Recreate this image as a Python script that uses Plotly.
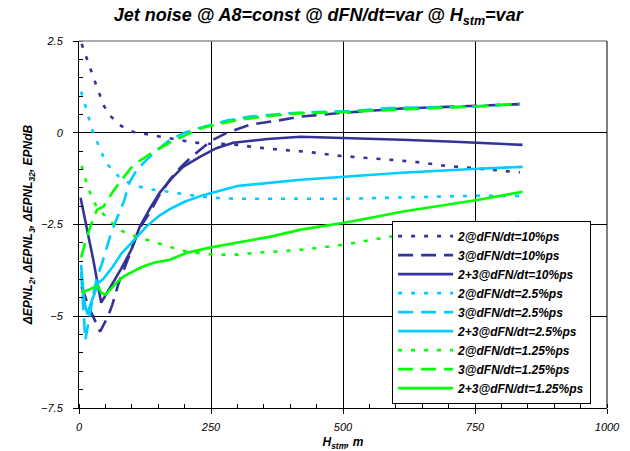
import plotly.graph_objects as go

# H_stm, m  /  delta EPNL, EPNdB  for each thrust-rate case
x_2_10 = [5, 15, 25, 35, 48, 60, 76, 90, 101, 125, 147, 170, 191, 215, 240, 270, 302, 330, 380, 433, 487, 540, 592, 641, 693, 744, 798, 835]
y_2_10 = [2.42, 2.0, 1.6, 1.2, 0.71, 0.45, 0.22, 0.1, 0.03, -0.03, -0.08, -0.13, -0.19, -0.26, -0.3, -0.3, -0.33, -0.39, -0.46, -0.52, -0.62, -0.69, -0.74, -0.8, -0.9, -0.96, -1.03, -1.08]

x_3_10 = [5, 20, 40, 55, 63, 75, 90, 115, 134, 150, 172, 190, 210, 230, 250, 280, 324, 376, 420, 496, 550, 611, 649, 697, 750, 800, 835]
y_3_10 = [-4.2, -4.8, -5.42, -5.0, -4.69, -4.1, -3.54, -2.59, -2.18, -1.75, -1.28, -0.98, -0.7, -0.45, -0.22, 0.0, 0.22, 0.33, 0.44, 0.54, 0.6, 0.66, 0.68, 0.7, 0.73, 0.76, 0.78]

x_23_10 = [3, 17, 27, 42, 60, 80, 99, 115, 135, 153, 175, 197, 229, 260, 292, 357, 420, 502, 611, 700, 754, 840]
y_23_10 = [-1.77, -2.72, -3.46, -4.63, -4.2, -3.7, -3.19, -2.56, -2.05, -1.63, -1.25, -0.93, -0.66, -0.42, -0.27, -0.17, -0.11, -0.14, -0.19, -0.24, -0.27, -0.33]

x_2_25 = [4, 13, 25, 38, 51, 76, 101, 139, 172, 204, 254, 300, 400, 500, 590, 668, 744, 835]
y_2_25 = [1.12, 0.68, 0.08, -0.38, -0.82, -1.2, -1.42, -1.55, -1.61, -1.69, -1.77, -1.8, -1.8, -1.8, -1.77, -1.74, -1.72, -1.72]

x_3_25 = [4, 12, 20, 27, 34, 44, 61, 76, 86, 95, 110, 128, 150, 172, 200, 235, 280, 324, 363, 406, 458, 510, 601, 649, 697, 744, 782, 835]
y_3_25 = [-3.8, -5.65, -5.0, -4.4, -3.95, -3.54, -2.72, -2.18, -1.83, -1.36, -1.0, -0.74, -0.45, -0.19, 0.0, 0.16, 0.33, 0.44, 0.49, 0.54, 0.57, 0.59, 0.68, 0.69, 0.72, 0.71, 0.74, 0.79]

x_23_25 = [4, 10, 16, 22, 30, 36, 45, 64, 80, 110, 128, 153, 172, 200, 235, 300, 363, 420, 502, 573, 611, 754, 840]
y_23_25 = [-3.6, -4.6, -4.95, -4.66, -4.36, -4.09, -4.0, -3.65, -3.3, -2.83, -2.55, -2.25, -2.08, -1.88, -1.7, -1.45, -1.36, -1.28, -1.2, -1.12, -1.09, -0.98, -0.93]

x_2_125 = [5, 15, 25, 35, 45, 57, 72, 85, 109, 147, 204, 254, 300, 338, 420, 502, 590, 641, 693, 744, 798, 835]
y_2_125 = [-0.9, -1.4, -1.8, -2.05, -2.2, -2.37, -2.59, -2.7, -2.83, -3.0, -3.24, -3.32, -3.32, -3.27, -3.19, -3.05, -2.83, -2.75, -2.7, -2.53, -2.45, -2.43]

x_3_125 = [4, 13, 23, 34, 47, 63, 81, 99, 109, 139, 172, 204, 235, 300, 363, 406, 510, 597, 700, 744, 782, 835]
y_3_125 = [-3.4, -2.92, -2.5, -2.1, -2.0, -1.63, -1.28, -0.95, -0.82, -0.54, -0.27, -0.05, 0.14, 0.35, 0.46, 0.52, 0.57, 0.63, 0.69, 0.71, 0.74, 0.79]

x_23_125 = [4, 10, 18, 27, 36, 42, 50, 71, 84, 116, 141, 172, 204, 248, 300, 363, 420, 502, 573, 611, 754, 840]
y_23_125 = [-4.36, -4.33, -4.28, -4.22, -4.19, -4.36, -4.41, -4.09, -3.92, -3.68, -3.54, -3.46, -3.27, -3.13, -3.0, -2.83, -2.64, -2.45, -2.26, -2.15, -1.83, -1.61]

NAVY = "#333399"
CYAN = "#00CCFF"
GREEN = "#00FF00"
DOT = "4px,9px"
DASH = "15px,8px"

series = [
    ("2@dFN/dt=10%ps", x_2_10, y_2_10, NAVY, DOT),
    ("3@dFN/dt=10%ps", x_3_10, y_3_10, NAVY, DASH),
    ("2+3@dFN/dt=10%ps", x_23_10, y_23_10, NAVY, "solid"),
    ("2@dFN/dt=2.5%ps", x_2_25, y_2_25, CYAN, DOT),
    ("3@dFN/dt=2.5%ps", x_3_25, y_3_25, CYAN, DASH),
    ("2+3@dFN/dt=2.5%ps", x_23_25, y_23_25, CYAN, "solid"),
    ("2@dFN/dt=1.25%ps", x_2_125, y_2_125, GREEN, DOT),
    ("3@dFN/dt=1.25%ps", x_3_125, y_3_125, GREEN, DASH),
    ("2+3@dFN/dt=1.25%ps", x_23_125, y_23_125, GREEN, "solid"),
]

FONT = "Liberation Sans, Arial, sans-serif"

fig = go.Figure()
for name, xs, ys, color, dash in series:
    fig.add_trace(go.Scatter(
        x=xs, y=ys, name=name, mode="lines",
        line=dict(color=color, width=2.6, dash=dash),
    ))

fig.update_layout(
    width=630, height=451,
    margin=dict(l=79, r=23, t=41, b=43),
    paper_bgcolor="white", plot_bgcolor="white",
    font=dict(family=FONT, color="black"),
    title=dict(
        text="Jet noise @ A8=const @ dFN/dt=var @ H<sub>stm</sub>=var",
        x=0.505, xanchor="center", y=0.967, yanchor="middle",
        font=dict(size=18, weight="bold", style="italic", color="black"),
    ),
    showlegend=True,
    legend=dict(
        x=0.593, xanchor="left", y=0.012, yanchor="bottom",
        bgcolor="white", bordercolor="black", borderwidth=1,
        font=dict(size=12, weight="bold", style="italic", color="black"),
        itemwidth=55, tracegroupgap=0,
    ),
)

fig.update_xaxes(
    range=[0, 1000], tickvals=[0, 250, 500, 750, 1000], automargin=False,
    showline=True, linecolor="black", linewidth=1,
    showgrid=True, gridcolor="black", gridwidth=1, zeroline=False,
    ticks="outside", ticklen=5, tickcolor="black", ticklabelstandoff=4,
    minor=dict(dtick=50, ticks="inside", ticklen=4, tickcolor="black", showgrid=False),
    tickfont=dict(size=11, style="italic", color="black"),
    title=dict(text="H<sub>stm</sub>, m", standoff=8,
               font=dict(size=12, weight="bold", style="italic", color="black")),
)
fig.update_yaxes(
    range=[-7.5, 2.5], tickvals=[-7.5, -5, -2.5, 0, 2.5], automargin=False,
    showline=True, linecolor="black", linewidth=1,
    showgrid=True, gridcolor="black", gridwidth=1, zeroline=False,
    ticks="outside", ticklen=5, tickcolor="black", ticklabelstandoff=8,
    minor=dict(dtick=0.5, ticks="inside", ticklen=4, tickcolor="black", showgrid=False),
    tickfont=dict(size=11, style="italic", color="black"),
    title=dict(text="ΔEPNL<sub>2</sub>, ΔEPNL<sub>3</sub>, ΔEPNL<sub>32</sub>, EPNdB", standoff=5,
               font=dict(size=12, weight="bold", style="italic", color="black")),
)

# plot frame: grey top edge, black right edge
fig.add_shape(type="line", xref="paper", yref="paper", x0=0, x1=1, y0=1, y1=1,
              line=dict(color="#909090", width=1.5), layer="above")
fig.add_shape(type="line", xref="paper", yref="paper", x0=1, x1=1, y0=0, y1=1,
              line=dict(color="black", width=1), layer="above")

fig.write_html("out.html")
